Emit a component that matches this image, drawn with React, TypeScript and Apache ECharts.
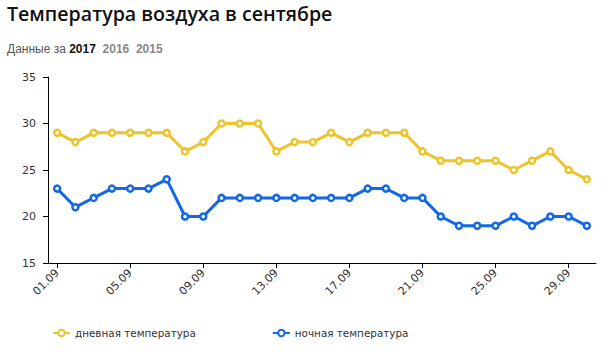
import React, { useEffect, useRef } from "react";
import * as echarts from "echarts";

const categories = [
  "01.09", "02.09", "03.09", "04.09", "05.09", "06.09", "07.09", "08.09", "09.09", "10.09",
  "11.09", "12.09", "13.09", "14.09", "15.09", "16.09", "17.09", "18.09", "19.09", "20.09",
  "21.09", "22.09", "23.09", "24.09", "25.09", "26.09", "27.09", "28.09", "29.09", "30.09",
];
const dayTemps = [29, 28, 29, 29, 29, 29, 29, 27, 28, 30, 30, 30, 27, 28, 28, 29, 28, 29, 29, 29, 27, 26, 26, 26, 26, 25, 26, 27, 25, 24];
const nightTemps = [23, 21, 22, 23, 23, 23, 24, 20, 20, 22, 22, 22, 22, 22, 22, 22, 22, 23, 23, 22, 22, 20, 19, 19, 19, 20, 19, 20, 20, 19];
const seriesNames = ["дневная температура", "ночная температура"];
const titleText = "Температура воздуха в сентябре";
const years = ["2017", "2016", "2015"];

const YELLOW = "#EDC42C";
const BLUE = "#1368E8";

export default function App() {
  const ref = useRef<HTMLDivElement>(null);
  useEffect(() => {
    if (!ref.current) return;
    const chart = echarts.init(ref.current, undefined, { renderer: "svg" });
    const mkSeries = (name: string, data: number[], color: string) => ({
      name,
      type: "line",
      data,
      symbol: "circle",
      symbolSize: 6,
      showSymbol: true,
      lineStyle: { color, width: 3 },
      itemStyle: { color: "#fff", borderColor: color, borderWidth: 2.5 },
      emphasis: { disabled: true },
    });
    chart.setOption({
      animation: false,
      title: [
        {
          text: titleText,
          left: 7,
          top: 3,
          padding: 0,
          textStyle: { fontFamily: "Open Sans", fontSize: 19.6, fontWeight: 600, color: "#111" },
        },
        {
          text: `{a|Данные за }{b|${years[0]}}{c|  ${years[1]}  ${years[2]}}`,
          left: 7,
          top: 43,
          padding: 0,
          textStyle: {
            fontWeight: "normal",
            rich: {
              a: { fontFamily: "Liberation Sans", fontSize: 12, color: "#555", fontWeight: "normal" },
              b: { fontFamily: "Liberation Sans", fontSize: 12, color: "#111", fontWeight: "bold" },
              c: { fontFamily: "Liberation Sans", fontSize: 12, color: "#888", fontWeight: "bold" },
            },
          },
        },
      ],
      legend: {
        left: 47,
        top: 323,
        itemWidth: 17,
        itemHeight: 8,
        itemGap: 76,
        selectedMode: false,
        textStyle: { fontFamily: "DejaVu Sans", fontSize: 10.4, color: "#333" },
        data: seriesNames,
      },
      grid: { left: 48, right: 19, top: 77, bottom: 92, containLabel: false },
      xAxis: {
        type: "category",
        data: categories,
        boundaryGap: true,
        axisLine: { show: true, lineStyle: { color: "#000", width: 1 } },
        axisTick: { show: true, alignWithLabel: true, interval: 3, length: 5, lineStyle: { color: "#000" } },
        axisLabel: {
          interval: 3,
          rotate: 45,
          margin: 8,
          fontFamily: "DejaVu Sans",
          fontSize: 11,
          color: "#333",
        },
        splitLine: { show: false },
      },
      yAxis: {
        type: "value",
        min: 15,
        max: 35,
        interval: 5,
        axisLine: { show: true, lineStyle: { color: "#000", width: 1 } },
        axisTick: { show: true, length: 5, lineStyle: { color: "#000" } },
        axisLabel: { margin: 12, fontFamily: "DejaVu Sans", fontSize: 11, color: "#333" },
        splitLine: { show: false },
      },
      series: [mkSeries(seriesNames[0], dayTemps, YELLOW), mkSeries(seriesNames[1], nightTemps, BLUE)],
    });
    return () => chart.dispose();
  }, []);
  return <div ref={ref} style={{ position: "fixed", left: 0, top: 0, width: 615, height: 355, background: "#fff" }} />;
}
